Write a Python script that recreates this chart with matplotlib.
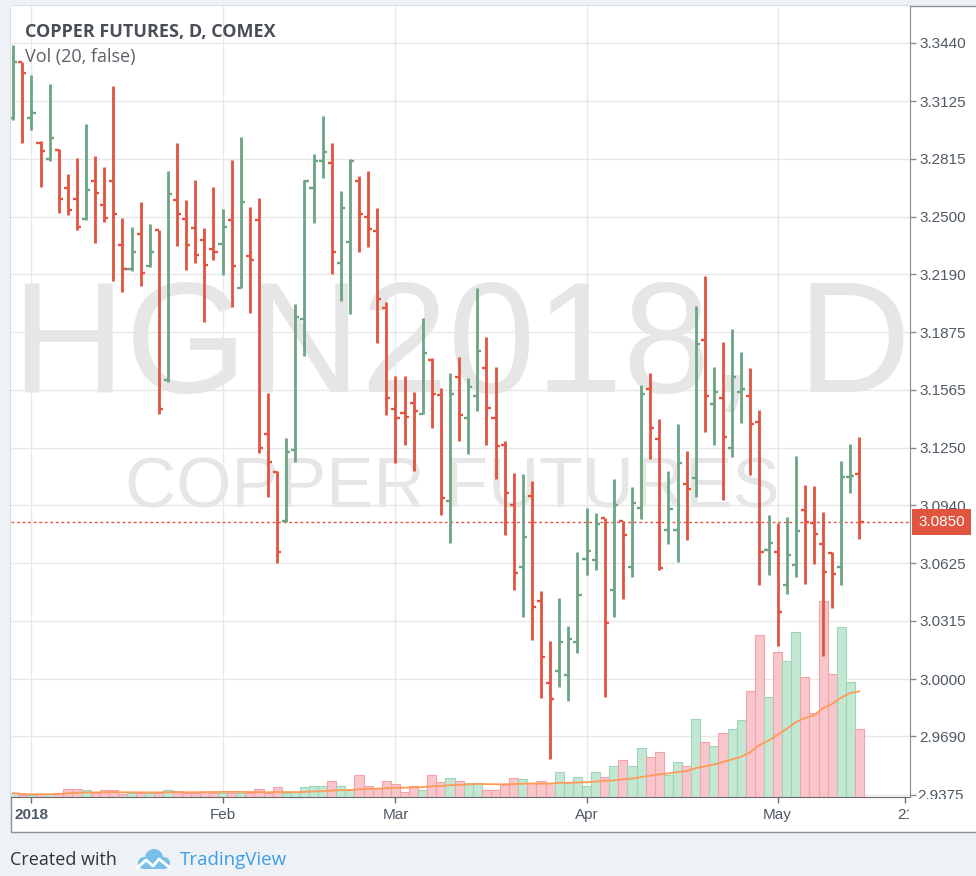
import matplotlib
matplotlib.use("agg")
import matplotlib.pyplot as plt
import pandas as pd
from matplotlib.patches import Rectangle, Circle
from matplotlib.transforms import Bbox, TransformedBbox, blended_transform_factory

plt.rcParams['font.family'] = ['Liberation Sans', 'DejaVu Sans']

# daily bars, HGN2018 (Dec 28 2017 .. May 14 2018), trading-day index
opens = [3.3035, 3.3338, 3.3035, 3.2900, 3.2813, 3.2862, 3.2656, 3.2597, 3.2489, 3.2694,
         3.2564, 3.2694, 3.2348, 3.2218, 3.2407, 3.2234, 3.2429, 3.1618, 3.2591, 3.2489,
         3.2440, 3.2375, 3.2326, 3.2353, 3.2483, 3.2115, 3.2288, 3.2483, 3.1325, 3.1120,
         3.0855, 3.1239, 3.1948, 3.2656, 3.2802, 3.2792, 3.2251, 3.2364, 3.2694, 3.2499,
         3.2424, 3.2007, 3.1461, 3.1439, 3.1493, 3.1434, 3.1726, 3.1536, 3.0963, 3.1634,
         3.1412, 3.1531, 3.1683, 3.1412, 3.1266, 3.0941, 3.0606, 3.0990, 3.0422, 2.9978,
         3.0043, 3.0022, 3.0200, 3.0649, 3.0644, 3.0871, 3.0481, 3.0855, 3.0606, 3.0925,
         3.1569, 3.1298, 3.0806, 3.0806, 3.1055, 3.1087, 3.1834, 3.1488, 3.1520, 3.1250,
         3.1553, 3.1531, 3.1390, 3.0698, 3.0687, 3.0509, 3.0617, 3.0914, 3.0844, 3.0730,
         3.0682, 3.0606, 3.1093, 3.1109]
highs = [3.3430, 3.3338, 3.3268, 3.2911, 3.3219, 3.2867, 3.2732, 3.2819, 3.3003, 3.2829,
         3.2770, 3.3208, 3.2494, 3.2445, 3.2581, 3.2462, 3.2429, 3.2748, 3.2900, 3.2591,
         3.2700, 3.2440, 3.2662, 3.2543, 3.2808, 3.2932, 3.2554, 3.2602, 3.1547, 3.1125,
         3.1304, 3.2029, 3.2700, 3.2840, 3.3046, 3.2900, 3.2640, 3.2813, 3.2721, 3.2748,
         3.2548, 3.2040, 3.1639, 3.1639, 3.1553, 3.1953, 3.1737, 3.1574, 3.1655, 3.1742,
         3.1628, 3.2115, 3.1850, 3.1688, 3.1288, 3.1114, 3.1109, 3.1071, 3.0476, 3.0206,
         3.0438, 3.0287, 3.0687, 3.0925, 3.0898, 3.0871, 3.1082, 3.0855, 3.1039, 3.1591,
         3.1655, 3.1407, 3.1125, 3.1380, 3.1233, 3.2018, 3.2180, 3.1688, 3.1823, 3.1894,
         3.1769, 3.1683, 3.1455, 3.0887, 3.0844, 3.0876, 3.1206, 3.1050, 3.1044, 3.0903,
         3.0687, 3.1179, 3.1271, 3.1309]
lows = [3.3024, 3.2900, 3.2970, 3.2662, 3.2802, 3.2521, 3.2510, 3.2429, 3.2483, 3.2359,
        3.2472, 3.2153, 3.2094, 3.2207, 3.2126, 3.2229, 3.1434, 3.1607, 3.2343, 3.2213,
        3.2251, 3.1931, 3.2267, 3.2186, 3.2013, 3.2115, 3.1980, 3.1223, 3.0985, 3.0628,
        3.0849, 3.1174, 3.1747, 3.2467, 3.2710, 3.2191, 3.2045, 3.1975, 3.2310, 3.2337,
        3.1818, 3.1428, 3.1169, 3.1266, 3.1125, 3.1434, 3.1358, 3.0887, 3.0736, 3.1288,
        3.1217, 3.1450, 3.1266, 3.1082, 3.0779, 3.0481, 3.0335, 3.0211, 2.9897, 2.9567,
        2.9957, 2.9881, 3.0141, 3.0563, 3.0590, 2.9903, 3.0335, 3.0433, 3.0552, 3.0866,
        3.1190, 3.0590, 3.0730, 3.0633, 3.0752, 3.0985, 3.1336, 3.1266, 3.0968, 3.1201,
        3.1385, 3.1104, 3.0509, 3.0563, 3.0179, 3.0460, 3.0552, 3.0514, 3.0622, 3.0124,
        3.0384, 3.0509, 3.1006, 3.0757]
closes = [3.3338, 3.3278, 3.3062, 3.2856, 3.2927, 3.2597, 3.2537, 3.2445, 3.2645, 3.2629,
          3.2494, 3.2516, 3.2218, 3.2310, 3.2196, 3.2310, 3.1461, 3.2624, 3.2516, 3.2348,
          3.2294, 3.2240, 3.2310, 3.2445, 3.2234, 3.2581, 3.2267, 3.1250, 3.1174, 3.0687,
          3.1228, 3.1958, 3.2694, 3.2802, 3.2851, 3.2310, 3.2548, 3.2802, 3.2516, 3.2435,
          3.2056, 3.1520, 3.1412, 3.1417, 3.1450, 3.1764, 3.1542, 3.0979, 3.1542, 3.1428,
          3.1580, 3.1774, 3.1466, 3.1261, 3.1006, 3.0573, 3.0768, 3.0390, 3.0119, 2.9892,
          3.0200, 3.0216, 3.0454, 3.0692, 3.0839, 3.0303, 3.0941, 3.0779, 3.0952, 3.1542,
          3.1358, 3.0601, 3.0920, 3.1169, 3.1028, 3.1812, 3.1531, 3.1553, 3.1309, 3.1634,
          3.1569, 3.1380, 3.0687, 3.0736, 3.0362, 3.0671, 3.0801, 3.0849, 3.0784, 3.0579,
          3.0568, 3.1093, 3.1098, 3.0850]
volumes = [2000, 1000, 1000, 1500, 1500, 2000, 4000, 4000, 3500, 2000,
           3500, 3500, 1500, 2000, 2000, 2000, 2000, 3500, 3000, 2000,
           2000, 2500, 2000, 2000, 2000, 2000, 2000, 4000, 2000, 5000,
           2000, 2500, 5000, 5500, 5500, 8000, 5500, 4000, 11000, 5500,
           4500, 8000, 6500, 2500, 5500, 3500, 11000, 7500, 9500, 8000,
           7000, 7000, 3500, 3500, 6000, 9500, 9000, 7000, 8000, 7000,
           12500, 7500, 10000, 5500, 12500, 10000, 15500, 18500, 15500, 24500,
           20000, 22500, 11000, 17500, 15500, 39000, 27500, 25500, 32000, 34000,
           38500, 53000, 81000, 50000, 72500, 68000, 82500, 60000, 42000, 98000,
           61500, 85000, 57500, 34000]

month_ticks = [2, 23, 42, 63, 84, 98]
month_labels = ["2018", "Feb", "Mar", "Apr", "May", ""]
price_ticks = [3.3440, 3.3125, 3.2815, 3.2500, 3.2190, 3.1875, 3.1565,
               3.1250, 3.0940, 3.0625, 3.0315, 3.0000, 2.9690, 2.9375]
last_price = 3.0850

RED = "#e05440"
GREEN = "#6ba583"
GRID = "#e8e8e8"
LABEL = "#4f5965"

W, H = 976, 876


def fx(px):
    return px / W


def fy(py):
    return 1 - py / H


fig = plt.figure(figsize=(9.76, 8.76), dpi=100, facecolor="#eef1f5")
fig.patches.append(Rectangle((fx(10.5), fy(832)), 1.0, (832 - 5.5) / H,
                             transform=fig.transFigure, facecolor="white",
                             edgecolor="#8f8f8f", lw=1, zorder=-1))

vax = fig.add_axes([fx(11), fy(797), fx(910) - fx(11), (797 - 6) / H])
ax = vax.twinx()

idx = list(range(len(closes)))
up = [c >= o for o, c in zip(opens, closes)]
colors = [GREEN if u else RED for u in up]

# price axis
ax.set_xlim(-0.25, 98.55)
ax.set_ylim(2.9362, 3.3640)
ax.vlines(idx, lows, highs, colors=colors, lw=2.0, zorder=3)
ax.hlines(opens, [i - 0.45 for i in idx], idx, colors=colors, lw=1.7, zorder=3)
ax.hlines(closes, idx, [i + 0.45 for i in idx], colors=colors, lw=1.7, zorder=3)
ax.axhline(last_price, color=RED, lw=1, ls=(0, (2, 2)), zorder=2)

ax.set_yticks(price_ticks, labels=[f"{v:.4f}" for v in price_ticks[:-1]] + [""])
ax.tick_params(axis="y", right=True, length=4, width=1, color="#8a8a8a",
               labelsize=11, labelcolor=LABEL, pad=3)
for s in ["left", "top", "bottom"]:
    ax.spines[s].set_visible(False)
ax.spines["right"].set_color("#8a8a8a")

ax.text(1.009, last_price, f"{last_price:.4f}", transform=blended_transform_factory(ax.transAxes, ax.transData),
        ha="left", va="center", color="white", fontsize=11, zorder=10, clip_on=False,
        bbox=dict(boxstyle="square,pad=0.38", fc=RED, ec="none"))

# volume pane (drawn underneath)
vax.set_xlim(-0.25, 98.55)
vax.set_ylim(0, 395500)
vax.set_yticks([])
for s in ["left", "top", "right"]:
    vax.spines[s].set_visible(False)
vax.spines["bottom"].set_color("#6b6b6b")

grid_tr = blended_transform_factory(vax.transAxes, ax.transData)
vax.hlines(price_ticks, 0, 1, transform=grid_tr, color=GRID, lw=1, zorder=0.6)
vax.vlines(month_ticks[:-1], 0, 1, transform=blended_transform_factory(vax.transData, vax.transAxes),
           color=GRID, lw=1, zorder=0.6)

vfill = ["#c4e7d4" if u else "#f8c6cb" for u in up]
vedge = ["#9dd5b6" if u else "#f2a2ab" for u in up]
vax.bar(idx, volumes, width=1.0, color=vfill, edgecolor=vedge, lw=0.8, zorder=1)
vol_ma = pd.Series(volumes).rolling(20, min_periods=1).mean()
vax.plot(idx, vol_ma, color="#ff9b57", lw=1.3, zorder=2)

vax.set_xticks(month_ticks, labels=month_labels)
vax.tick_params(axis="x", length=4, width=1, color="#6b6b6b", labelsize=11,
                labelcolor=LABEL, pad=4)
vax.get_xticklabels()[0].set_fontweight("bold")

# watermark
vax.text(fx(461), fy(392), "HGN2018, D", transform=fig.transFigure, fontsize=113,
         color="#e6e6e6", ha="center", va="baseline", zorder=0.3)
vax.text(fx(452), fy(508), "COPPER FUTURES", transform=fig.transFigure, fontsize=51,
         color="#e6e6e6", ha="center", va="baseline", zorder=0.3)

# labels cut by the pane edges
edge_clip = TransformedBbox(Bbox([[0, 0], [fx(909), 1]]), fig.transFigure)
t = fig.text(fx(905.5), fy(815), "21", ha="center", va="center", fontsize=11, color=LABEL)
t.set_clip_box(edge_clip)
t.set_clip_on(True)
axis_clip = TransformedBbox(Bbox([[fx(911), fy(799)], [1, 1]]), fig.transFigure)
t = fig.text(fx(917), fy(796), f"{price_ticks[-1]:.4f}", ha="left", va="center",
             fontsize=11, color=LABEL)
t.set_clip_box(axis_clip)
t.set_clip_on(True)

# header
fig.text(fx(25), fy(32), "COPPER FUTURES, D, COMEX", fontsize=13, fontweight="bold",
         color="#4a4f57", family="Open Sans", va="center")
fig.text(fx(25), fy(57), "Vol (20, false)", fontsize=13, color="#5d6169",
         family="Open Sans", va="center")

# footer
fig.text(fx(10), fy(860), "Created with", fontsize=13, color="#333333",
         family="Open Sans", va="center")
fig.text(fx(180), fy(860), "TradingView", fontsize=13.5, color="#3d9ee3",
         family="Open Sans", va="center")
lax = fig.add_axes([fx(134), fy(871), 38 / W, 26 / H])
lax.set_xlim(0, 38)
lax.set_ylim(0, 26)
lax.axis("off")
for cx, cy, r in [(10, 8, 6), (20, 13, 9), (30, 8, 6)]:
    lax.add_patch(Circle((cx, cy), r, color="#79bfe8", lw=0))
lax.add_patch(Rectangle((10, 2), 20, 6, color="#79bfe8", lw=0))
lax.plot([3, 12, 19, 25, 35], [3, 11, 5, 12, 4], color="white", lw=2)

fig.savefig("out.png", dpi=100, facecolor=fig.get_facecolor())
